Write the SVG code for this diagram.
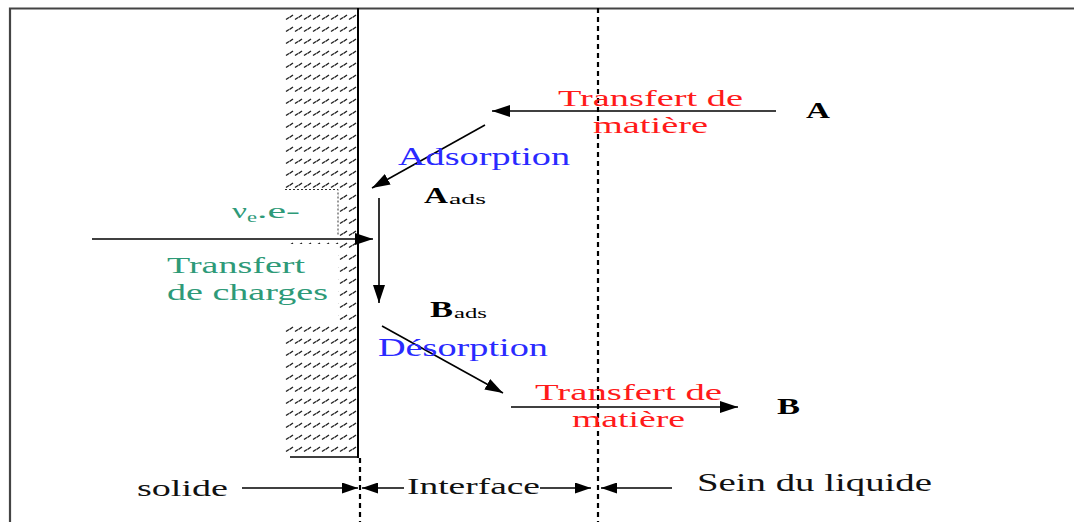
<svg xmlns="http://www.w3.org/2000/svg" width="1074" height="522" viewBox="0 0 1074 522">
<defs>
  <marker id="ah" markerUnits="userSpaceOnUse" markerWidth="18" markerHeight="12" refX="18" refY="6" orient="auto">
    <path d="M0,0 L18,6 L0,12 z" fill="#000"/>
  </marker>
  <marker id="ahs" markerUnits="userSpaceOnUse" markerWidth="16" markerHeight="11" refX="16" refY="5.5" orient="auto">
    <path d="M0,0 L16,5.5 L0,11 z" fill="#000"/>
  </marker>
  <pattern id="hatch" patternUnits="userSpaceOnUse" x="285" y="12" width="9" height="12">
    <path d="M1,7.5 L4,5.5 M4.5,5.5 L8,3" stroke="#222" stroke-width="1.5" fill="none"/>
  </pattern>
</defs>
<style>
  .ln { stroke:#000; stroke-width:1.6; fill:none; }
  .t { font-family:"Liberation Serif", "Times New Roman", serif; }
  .red { fill:#ff1a1a; font-size:24px; }
  .blue { fill:#2a2aff; font-size:25px; }
  .green { fill:#2e9a78; font-size:24px; }
  .blk { fill:#111; font-size:24px; }
  .bold { font-weight:bold; fill:#000; font-size:24px; }
  .sub { fill:#000; font-size:14px; }
</style>
<rect width="1074" height="522" fill="#fff"/>

<g id="frame">
  <path d="M10,522 L10,8.5 L1074,8.5" stroke="#444" stroke-width="2.2" fill="none"/>
</g>

<g id="solid">
  <rect x="285" y="10" width="72" height="447" fill="url(#hatch)"/>
  <rect x="284" y="189" width="54" height="48" fill="#fff"/>
  <rect x="284" y="244" width="54" height="76" fill="#fff"/>
  <path d="M285,189.5 L338,189.5 L338,236" stroke="#333" stroke-width="1" stroke-dasharray="2,2" fill="none"/>
  <line x1="290" y1="457" x2="358" y2="457" stroke="#000" stroke-width="1.6"/>
  <line x1="358" y1="8" x2="358" y2="458" stroke="#000" stroke-width="2"/>
  <line x1="360" y1="458" x2="360" y2="522" stroke="#000" stroke-width="2.2" stroke-dasharray="5,4"/>
</g>

<g id="bulk-boundary">
  <line x1="598" y1="8" x2="598" y2="522" stroke="#000" stroke-width="2.2" stroke-dasharray="5,4"/>
</g>

<g id="connectors">
  <line class="ln" x1="776" y1="111" x2="492" y2="111" marker-end="url(#ah)"/>
  <line class="ln" x1="485" y1="125" x2="372" y2="188" marker-end="url(#ah)"/>
  <line class="ln" x1="379" y1="198" x2="379" y2="303" marker-end="url(#ah)"/>
  <line class="ln" x1="92" y1="239" x2="373" y2="239" marker-end="url(#ah)"/>
  <line class="ln" x1="382" y1="326" x2="503" y2="393" marker-end="url(#ah)"/>
  <line class="ln" x1="511" y1="407" x2="738" y2="407" marker-end="url(#ah)"/>
  <line class="ln" x1="242" y1="488" x2="358" y2="488" marker-end="url(#ahs)"/>
  <line class="ln" x1="404" y1="488" x2="362" y2="488" marker-end="url(#ahs)"/>
  <line class="ln" x1="540" y1="488" x2="591" y2="488" marker-end="url(#ahs)"/>
  <line class="ln" x1="672" y1="488" x2="601" y2="488" marker-end="url(#ahs)"/>
</g>

<g id="transfert-A">
  <text class="t red" x="558" y="106" textLength="185" lengthAdjust="spacingAndGlyphs">Transfert de</text>
  <text class="t red" x="593" y="133" textLength="115" lengthAdjust="spacingAndGlyphs">matière</text>
</g>
<g id="A">
  <text class="t bold" x="806" y="118" textLength="24" lengthAdjust="spacingAndGlyphs">A</text>
</g>
<g id="adsorption">
  <text class="t blue" x="398" y="165" textLength="172" lengthAdjust="spacingAndGlyphs">Adsorption</text>
</g>
<g id="Aads">
  <text class="t bold" x="424" y="203" textLength="24" lengthAdjust="spacingAndGlyphs">A</text>
  <text class="t sub" x="449" y="204" textLength="37" lengthAdjust="spacingAndGlyphs">ads</text>
</g>
<g id="electrons">
  <text class="t green" x="232" y="218" style="font-size:22px" textLength="15" lengthAdjust="spacingAndGlyphs">ν</text>
  <text class="t green" x="247" y="222" style="font-size:14px" textLength="10" lengthAdjust="spacingAndGlyphs">e</text>
  <text class="t green" x="257" y="218" style="font-size:22px" textLength="43" lengthAdjust="spacingAndGlyphs">.e-</text>
</g>
<g id="transfert-charges">
  <text class="t green" x="167" y="273" textLength="138" lengthAdjust="spacingAndGlyphs">Transfert</text>
  <text class="t green" x="167" y="300" textLength="161" lengthAdjust="spacingAndGlyphs">de charges</text>
</g>
<g id="Bads">
  <text class="t bold" x="430" y="317" textLength="23" lengthAdjust="spacingAndGlyphs">B</text>
  <text class="t sub" x="454" y="318" textLength="33" lengthAdjust="spacingAndGlyphs">ads</text>
</g>
<g id="desorption">
  <text class="t blue" x="378" y="356" textLength="170" lengthAdjust="spacingAndGlyphs">Désorption</text>
</g>
<g id="transfert-B">
  <text class="t red" x="535" y="400" textLength="187" lengthAdjust="spacingAndGlyphs">Transfert de</text>
  <text class="t red" x="572" y="427" textLength="113" lengthAdjust="spacingAndGlyphs">matière</text>
</g>
<g id="B">
  <text class="t bold" x="777" y="414" textLength="23" lengthAdjust="spacingAndGlyphs">B</text>
</g>
<g id="labels">
  <text class="t blk" x="137" y="496" textLength="91" lengthAdjust="spacingAndGlyphs">solide</text>
  <text class="t blk" x="407" y="494" textLength="133" lengthAdjust="spacingAndGlyphs">Interface</text>
  <text class="t blk" x="697" y="491" style="font-size:25px" textLength="235" lengthAdjust="spacingAndGlyphs">Sein du liquide</text>
</g>
</svg>
